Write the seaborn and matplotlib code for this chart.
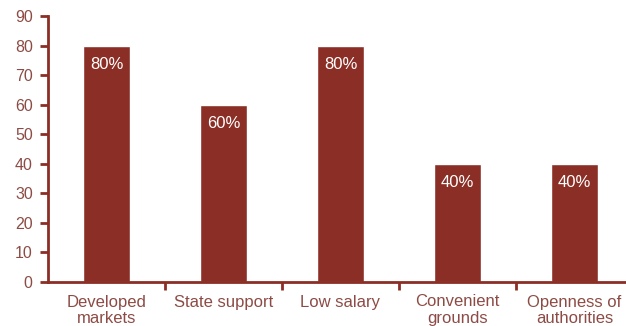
import matplotlib
matplotlib.use("Agg")
import matplotlib.pyplot as plt
import seaborn as sns
import pandas as pd

categories = ["Developed\nmarkets", "State support", "Low salary", "Convenient\ngrounds", "Openness of\nauthorities"]
values = [80, 60, 80, 40, 40]
bar_labels = ["80%", "60%", "80%", "40%", "40%"]
yticks = [0, 10, 20, 30, 40, 50, 60, 70, 80, 90]

sns.set_style("white")
plt.rcParams['font.family'] = ['Liberation Sans', 'DejaVu Sans']

red = "#8B2E25"
text_red = "#8D4B45"

df = pd.DataFrame({"cat": categories, "val": values})

fig = plt.figure(figsize=(6.26, 3.26), dpi=100)
ax = fig.add_axes([48/626, 44/326, 585/626, 266/326])
sns.barplot(data=df, x="cat", y="val", color=red, width=0.41, saturation=1, ax=ax)

ax.set_xlim(-0.5, 4.5)
ax.set_ylim(0, 90)
ax.set_yticks(yticks)
ax.set_xlabel("")
ax.set_ylabel("")

for sp in ["top", "right"]:
    ax.spines[sp].set_visible(False)
for sp in ["left", "bottom"]:
    ax.spines[sp].set_color(red)
    ax.spines[sp].set_linewidth(2)

ax.tick_params(axis="y", which="major", left=True, direction="out", length=6, width=2, color=red,
               labelsize=11.5, labelcolor=text_red, pad=5)
ax.tick_params(axis="x", which="major", bottom=False, length=0, labelsize=12, labelcolor=text_red, pad=9)
ax.set_xticks([0.5, 1.5, 2.5, 3.5], minor=True)
ax.tick_params(axis="x", which="minor", bottom=True, direction="out", length=6, width=2, color=red)
for lbl in ax.get_xticklabels():
    lbl.set_linespacing(1.1)

for container in ax.containers:
    ax.bar_label(container, labels=bar_labels, label_type="edge", padding=-19,
                 color="white", fontsize=12, fontweight="normal")

fig.savefig("out.png", dpi=100)
